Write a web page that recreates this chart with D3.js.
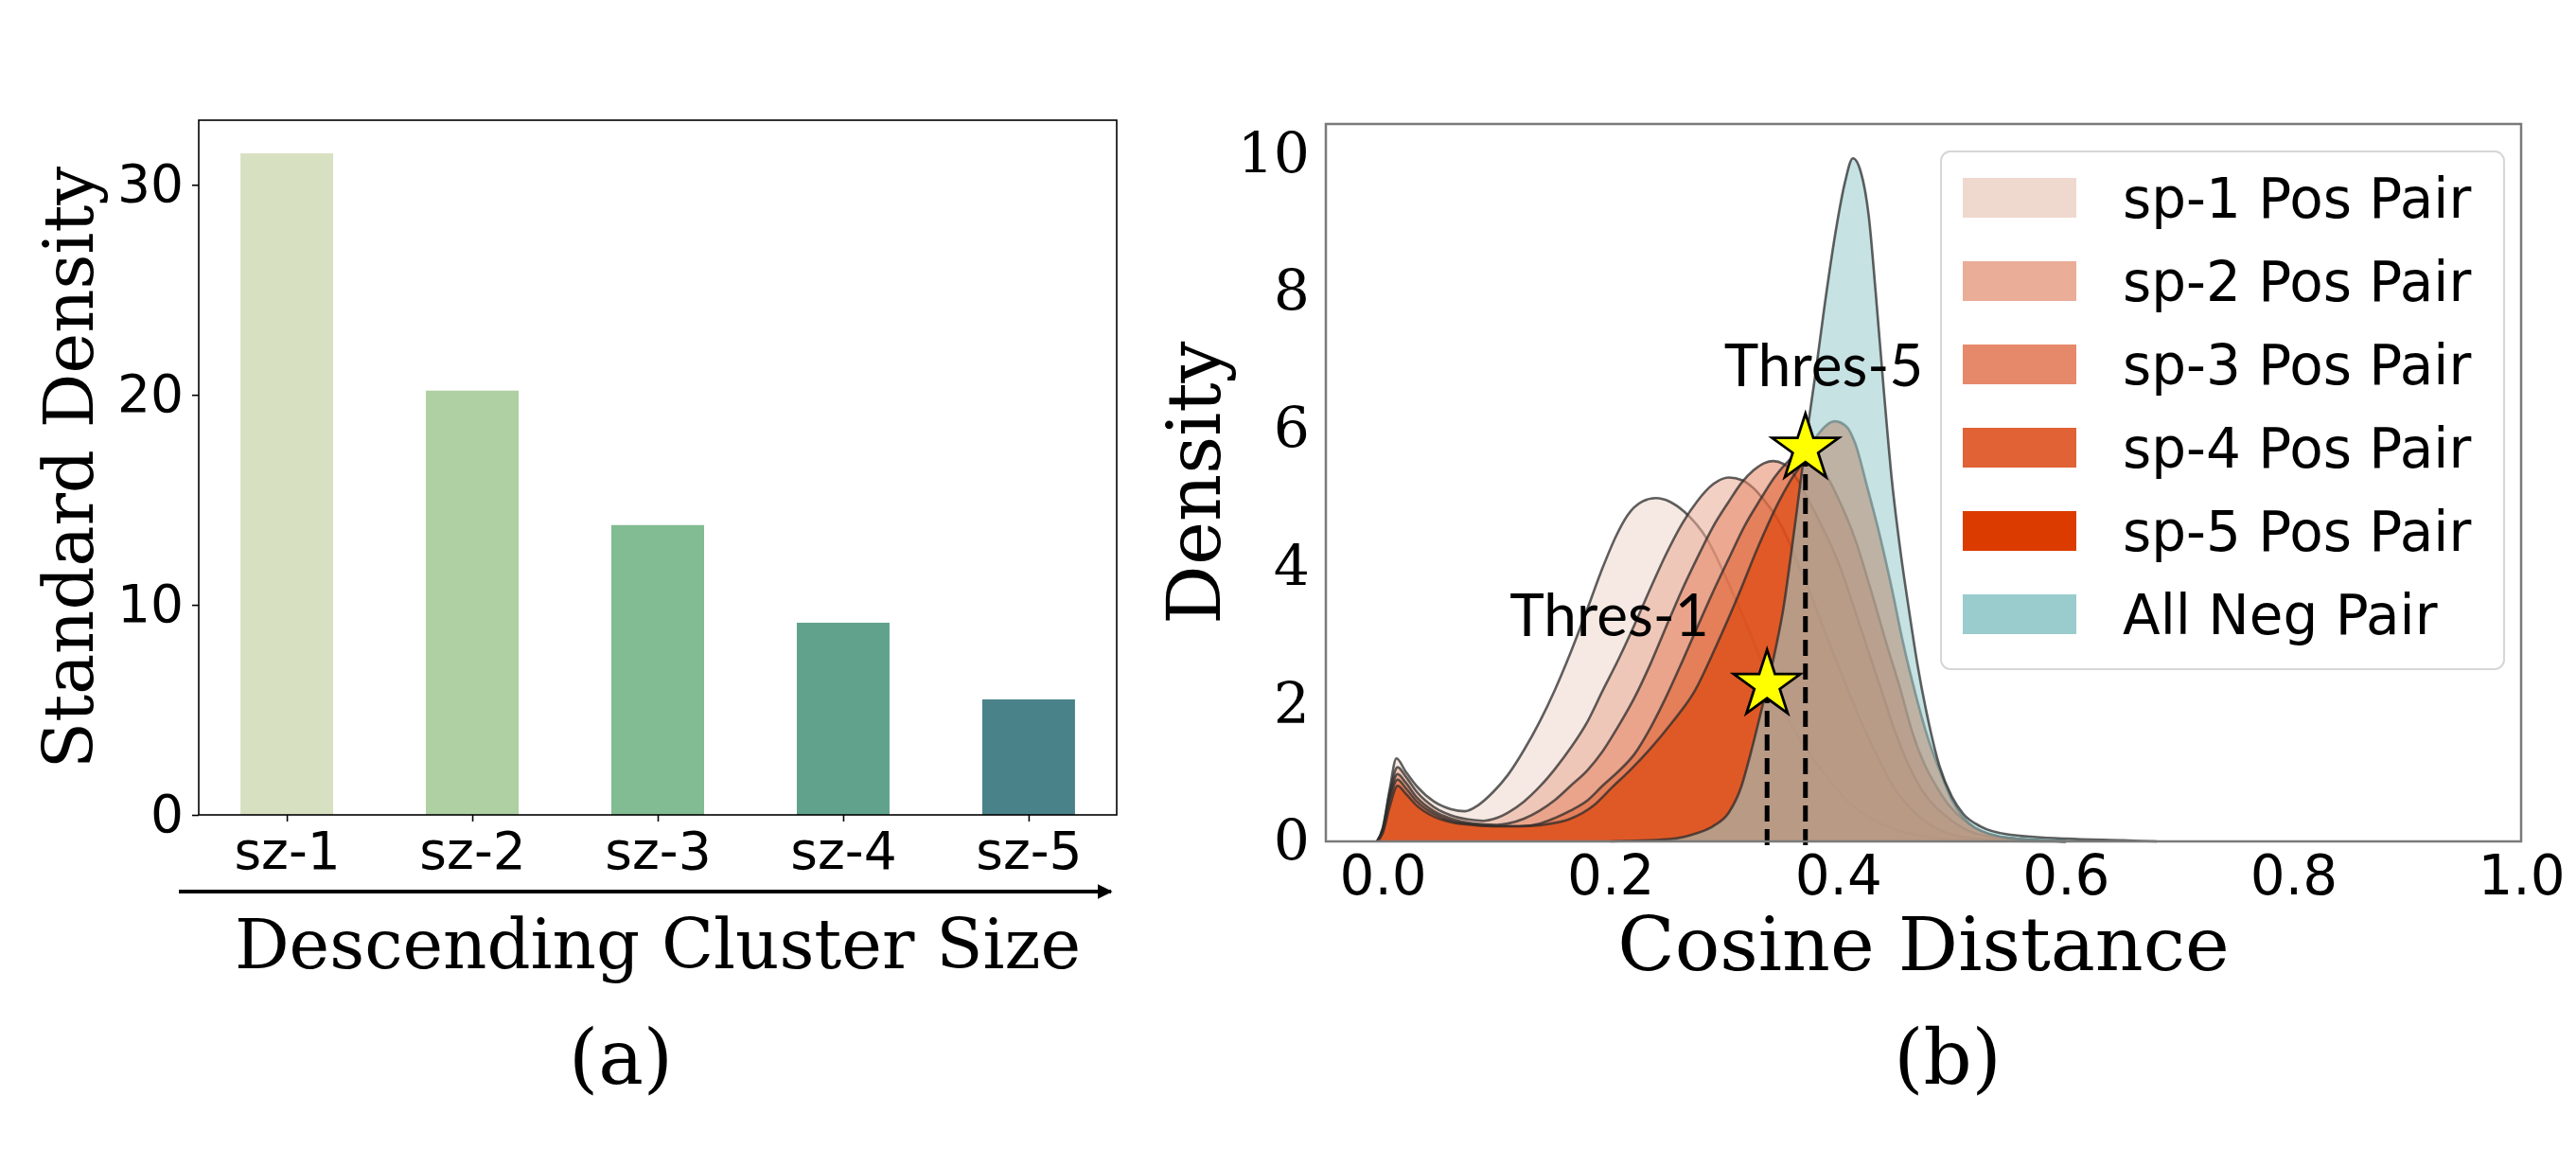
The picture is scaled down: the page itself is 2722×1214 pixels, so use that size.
<!DOCTYPE html>
<html><head><meta charset="utf-8">
<script src="https://cdn.jsdelivr.net/npm/d3@7"></script>
<style>html,body{margin:0;padding:0;background:#fff;}</style>
</head><body>
<svg id="chart" width="2722" height="1214" xmlns="http://www.w3.org/2000/svg"></svg>
<script>
// ---------- data: panel (a) ----------
const barCategories = ["sz-1", "sz-2", "sz-3", "sz-4", "sz-5"];
const barValues = [31.5, 20.2, 13.8, 9.15, 5.5];
const barColors = ["#d8e0c2", "#aed0a2", "#82bc92", "#61a28c", "#4a828a"];
const barYTicks = [0, 10, 20, 30];

// ---------- data: panel (b) ----------
const kdeNames = ["sp-1 Pos Pair", "sp-2 Pos Pair", "sp-3 Pos Pair", "sp-4 Pos Pair", "sp-5 Pos Pair", "All Neg Pair"];
const kdeColors = ["#efd8ce", "#eaad98", "#e6896a", "#e06235", "#dc3b00", "#9acccd"];
const sp1 = [[-0.005,0],[0,0.2],[0.006,0.75],[0.012,1.21],[0.02,1.02],[0.03,0.8],[0.045,0.58],[0.06,0.47],[0.072,0.44],[0.084,0.53],[0.097,0.72],[0.11,0.97],[0.124,1.33],[0.138,1.75],[0.151,2.2],[0.165,2.75],[0.18,3.4],[0.193,3.98],[0.205,4.45],[0.215,4.75],[0.228,4.95],[0.24,5.0],[0.252,4.95],[0.265,4.8],[0.285,4.4],[0.304,3.75],[0.323,3.02],[0.338,2.4],[0.352,1.9],[0.368,1.45],[0.387,1.0],[0.415,0.49],[0.443,0.22],[0.47,0.09],[0.5,0.03],[0.55,0.005],[0.6,0]];
const sp2 = [[-0.005,0],[0,0.18],[0.006,0.7],[0.013,1.08],[0.02,0.95],[0.03,0.72],[0.045,0.5],[0.06,0.38],[0.075,0.32],[0.088,0.3],[0.1,0.34],[0.11,0.42],[0.124,0.58],[0.138,0.8],[0.151,1.05],[0.165,1.36],[0.18,1.75],[0.193,2.19],[0.207,2.65],[0.221,3.15],[0.235,3.68],[0.2485,4.17],[0.262,4.6],[0.276,4.95],[0.29,5.2],[0.304,5.3],[0.316,5.26],[0.326,5.14],[0.336,4.95],[0.346,4.72],[0.356,4.4],[0.365,4.03],[0.376,3.6],[0.387,3.11],[0.398,2.65],[0.409,2.19],[0.42,1.75],[0.431,1.36],[0.448,0.81],[0.47,0.38],[0.5,0.1],[0.53,0.03],[0.6,0]];
const sp3 = [[-0.005,0],[0,0.16],[0.006,0.65],[0.013,0.98],[0.02,0.86],[0.03,0.64],[0.045,0.44],[0.06,0.33],[0.08,0.26],[0.1,0.24],[0.11,0.26],[0.124,0.33],[0.138,0.45],[0.151,0.6],[0.165,0.81],[0.18,1.04],[0.193,1.31],[0.207,1.68],[0.221,2.09],[0.235,2.58],[0.2485,3.11],[0.262,3.63],[0.276,4.12],[0.29,4.58],[0.304,4.95],[0.315,5.22],[0.326,5.41],[0.335,5.51],[0.343,5.54],[0.352,5.5],[0.362,5.33],[0.373,5.0],[0.387,4.55],[0.401,4.03],[0.415,3.35],[0.429,2.65],[0.44,2.1],[0.45,1.6],[0.47,0.85],[0.5,0.3],[0.53,0.08],[0.6,0]];
const sp4 = [[-0.005,0],[0,0.15],[0.006,0.6],[0.013,0.9],[0.02,0.78],[0.03,0.58],[0.045,0.4],[0.06,0.3],[0.08,0.24],[0.1,0.22],[0.12,0.22],[0.138,0.26],[0.151,0.34],[0.165,0.45],[0.18,0.6],[0.193,0.81],[0.207,1.02],[0.221,1.27],[0.235,1.65],[0.2485,2.09],[0.262,2.58],[0.276,3.11],[0.29,3.63],[0.304,4.12],[0.318,4.6],[0.332,4.99],[0.344,5.3],[0.354,5.5],[0.365,5.64],[0.376,5.6],[0.387,5.41],[0.4,5.0],[0.415,4.4],[0.429,3.65],[0.4425,2.88],[0.455,2.2],[0.465,1.6],[0.49,0.7],[0.52,0.2],[0.55,0.05],[0.6,0]];
const sp5 = [[-0.005,0],[0,0.12],[0.006,0.5],[0.013,0.81],[0.02,0.7],[0.03,0.52],[0.045,0.36],[0.06,0.28],[0.08,0.24],[0.1,0.22],[0.12,0.22],[0.14,0.24],[0.165,0.33],[0.185,0.52],[0.201,0.78],[0.218,1.05],[0.235,1.35],[0.255,1.75],[0.274,2.19],[0.293,2.85],[0.312,3.57],[0.33,4.3],[0.348,4.95],[0.358,5.25],[0.368,5.5],[0.382,5.92],[0.397,6.12],[0.407,6.05],[0.415,5.8],[0.425,5.2],[0.436,4.5],[0.447,3.7],[0.457,2.9],[0.468,2.15],[0.479,1.5],[0.49,1.0],[0.5,0.6],[0.51,0.35],[0.52,0.2],[0.55,0.05],[0.6,0]];
const negPair = [[0.2,0],[0.25,0.03],[0.276,0.12],[0.29,0.22],[0.304,0.42],[0.315,0.8],[0.323,1.27],[0.331,1.8],[0.338,2.28],[0.345,2.8],[0.352,3.4],[0.358,4.1],[0.364,4.85],[0.371,5.75],[0.38,6.8],[0.388,7.79],[0.398,8.9],[0.406,9.6],[0.413,9.95],[0.42,9.75],[0.427,9.1],[0.433,8.0],[0.44,6.6],[0.447,5.3],[0.455,4.2],[0.462,3.4],[0.47,2.55],[0.48,1.7],[0.489,1.1],[0.5,0.65],[0.51,0.4],[0.525,0.22],[0.55,0.1],[0.6,0.04],[0.65,0.015],[0.68,0]];
const kdeSeries = [sp1, sp2, sp3, sp4, sp5, negPair];
const kdeXTicks = [0, 0.2, 0.4, 0.6, 0.8, 1.0];
const kdeYTicks = [0, 2, 4, 6, 8, 10];
const thresholdNames = ["Thres-1", "Thres-5"];
const thresholdX = [0.3376, 0.3713];
const thresholdY = [2.28, 5.72];

// ---------- drawing ----------
const svg = d3.select("#chart");
svg.append("rect").attr("width", 2722).attr("height", 1214).attr("fill", "#fff");
const SANS = "'DejaVu Sans', sans-serif";
const SERIF = "'DejaVu Serif', serif";

// ===== Panel (a) =====
const A = {left: 210, right: 1180, top: 127, bottom: 861};
const xa = d3.scaleLinear().domain([-0.475, barCategories.length - 1 + 0.475]).range([A.left, A.right]);
const ya = d3.scaleLinear().domain([0, d3.max(barValues) * 1.05]).range([A.bottom, A.top]);
const ga = svg.append("g");

ga.selectAll("rect.bar").data(barValues).join("rect")
  .attr("class", "bar")
  .attr("x", (d, i) => xa(i - 0.25))
  .attr("width", xa(0.5) - xa(0))
  .attr("y", d => ya(d))
  .attr("height", d => ya(0) - ya(d))
  .attr("fill", (d, i) => barColors[i]);

ga.append("rect").attr("x", A.left).attr("y", A.top)
  .attr("width", A.right - A.left).attr("height", A.bottom - A.top)
  .attr("fill", "none").attr("stroke", "#000").attr("stroke-width", 1.6);

const ayAxis = ga.append("g").attr("transform", `translate(${A.left},0)`)
  .call(d3.axisLeft(ya).tickValues(barYTicks).tickFormat(d3.format("d")).tickSize(7).tickPadding(9));
const axAxis = ga.append("g").attr("transform", `translate(0,${A.bottom})`)
  .call(d3.axisBottom(xa).tickValues(d3.range(barCategories.length)).tickFormat(i => barCategories[i]).tickSize(7).tickPadding(11));
[ayAxis, axAxis].forEach(ax => {
  ax.select(".domain").remove();
  ax.selectAll("line").attr("stroke", "#000").attr("stroke-width", 1.6);
  ax.selectAll("text").attr("font-family", SANS).attr("font-size", 55).attr("fill", "#000");
});

ga.append("text").attr("transform", `translate(98,${(A.top + A.bottom) / 2}) rotate(-90)`)
  .attr("text-anchor", "middle").attr("font-family", SERIF).attr("font-size", 72)
  .text("Standard Density");

// arrow
const defs = svg.append("defs");
defs.append("marker").attr("id", "arrowhead").attr("viewBox", "0 0 10 10")
  .attr("refX", 9).attr("refY", 5).attr("markerWidth", 4).attr("markerHeight", 4)
  .attr("markerUnits", "strokeWidth").attr("orient", "auto")
  .append("path").attr("d", "M0,0 L10,5 L0,10 z").attr("fill", "#000");
ga.append("line").attr("x1", 189).attr("x2", 1174).attr("y1", 942).attr("y2", 942)
  .attr("stroke", "#000").attr("stroke-width", 4).attr("marker-end", "url(#arrowhead)");

ga.append("text").attr("x", (A.left + A.right) / 2).attr("y", 1023)
  .attr("text-anchor", "middle").attr("font-family", SERIF).attr("font-size", 72)
  .text("Descending Cluster Size");
ga.append("text").attr("x", 656).attr("y", 1145)
  .attr("text-anchor", "middle").attr("font-family", SERIF).attr("font-size", 80).text("(a)");

// ===== Panel (b) =====
const B = {left: 1401, right: 2664, top: 131, bottom: 889};
const xb = d3.scaleLinear().domain([-0.05, 1.0]).range([B.left, B.right]);
const yb = d3.scaleLinear().domain([0, 10.45]).range([B.bottom, B.top]);
const gb = svg.append("g");

const area = d3.area().x(d => xb(d[0])).y0(yb(0)).y1(d => yb(d[1])).curve(d3.curveMonotoneX);
const line = d3.line().x(d => xb(d[0])).y(d => yb(d[1])).curve(d3.curveMonotoneX);

kdeSeries.forEach((s, i) => {
  gb.append("path").attr("d", area(s)).attr("fill", kdeColors[i]).attr("fill-opacity", 0.57);
  gb.append("path").attr("d", line(s)).attr("fill", "none")
    .attr("stroke", "#2b2b2b").attr("stroke-opacity", 0.75).attr("stroke-width", 2.6);
});

// threshold dashed lines, stars and labels
thresholdX.forEach((tx, i) => {
  gb.append("line").attr("x1", xb(tx)).attr("x2", xb(tx))
    .attr("y1", yb(0) + 4).attr("y2", yb(thresholdY[i]))
    .attr("stroke", "#000").attr("stroke-width", 5).attr("stroke-dasharray", "17,8");
});
thresholdX.forEach((tx, i) => {
  gb.append("path").attr("d", d3.symbol().type(d3.symbolStar).size(1540)())
    .attr("transform", `translate(${xb(tx)},${yb(thresholdY[i])})`)
    .attr("fill", "#ffff00").attr("stroke", "#000").attr("stroke-width", 2.8).attr("stroke-linejoin", "miter");
});
const labelOffsets = [[-272, -52], [-86, -66]];
thresholdNames.forEach((name, i) => {
  gb.append("text").attr("x", xb(thresholdX[i]) + labelOffsets[i][0]).attr("y", yb(thresholdY[i]) + labelOffsets[i][1])
    .attr("font-family", "Lato, 'Open Sans', sans-serif").attr("font-size", 62).attr("fill", "#000").text(name);
});

// frame
gb.append("rect").attr("x", B.left).attr("y", B.top)
  .attr("width", B.right - B.left).attr("height", B.bottom - B.top)
  .attr("fill", "none").attr("stroke", "#7a7a7a").attr("stroke-width", 2.5);

const bxAxis = gb.append("g").attr("transform", `translate(0,${B.bottom})`)
  .call(d3.axisBottom(xb).tickValues(kdeXTicks).tickFormat(d3.format(".1f")).tickSize(0).tickPadding(15));
const byAxis = gb.append("g").attr("transform", `translate(${B.left},0)`)
  .call(d3.axisLeft(yb).tickValues(kdeYTicks).tickFormat(d3.format("d")).tickSize(0).tickPadding(17));
bxAxis.select(".domain").remove();
byAxis.select(".domain").remove();
bxAxis.selectAll("text").attr("font-family", SANS).attr("font-size", 58).attr("fill", "#000");
byAxis.selectAll("text").attr("font-family", SERIF).attr("font-size", 60).attr("fill", "#000");

gb.append("text").attr("transform", `translate(1289,${(B.top + B.bottom) / 2}) rotate(-90)`)
  .attr("text-anchor", "middle").attr("font-family", SERIF).attr("font-size", 78).text("Density");
gb.append("text").attr("x", (B.left + B.right) / 2).attr("y", 1025)
  .attr("text-anchor", "middle").attr("font-family", SERIF).attr("font-size", 79).text("Cosine Distance");
gb.append("text").attr("x", 2058).attr("y", 1145)
  .attr("text-anchor", "middle").attr("font-family", SERIF).attr("font-size", 80).text("(b)");

// legend
const lg = gb.append("g");
lg.append("rect").attr("x", 2051).attr("y", 160).attr("width", 595).attr("height", 547)
  .attr("rx", 10).attr("fill", "#fff").attr("fill-opacity", 0.8)
  .attr("stroke", "#d6d6d6").attr("stroke-width", 2);
kdeNames.forEach((n, i) => {
  const cy = 209 + i * 88;
  lg.append("rect").attr("x", 2074).attr("y", cy - 21).attr("width", 120).attr("height", 42)
    .attr("fill", kdeColors[i]);
  lg.append("text").attr("x", 2243).attr("y", cy).attr("dy", "0.36em")
    .attr("font-family", SANS).attr("font-size", 58).attr("fill", "#000").text(n);
});
</script>
</body></html>
